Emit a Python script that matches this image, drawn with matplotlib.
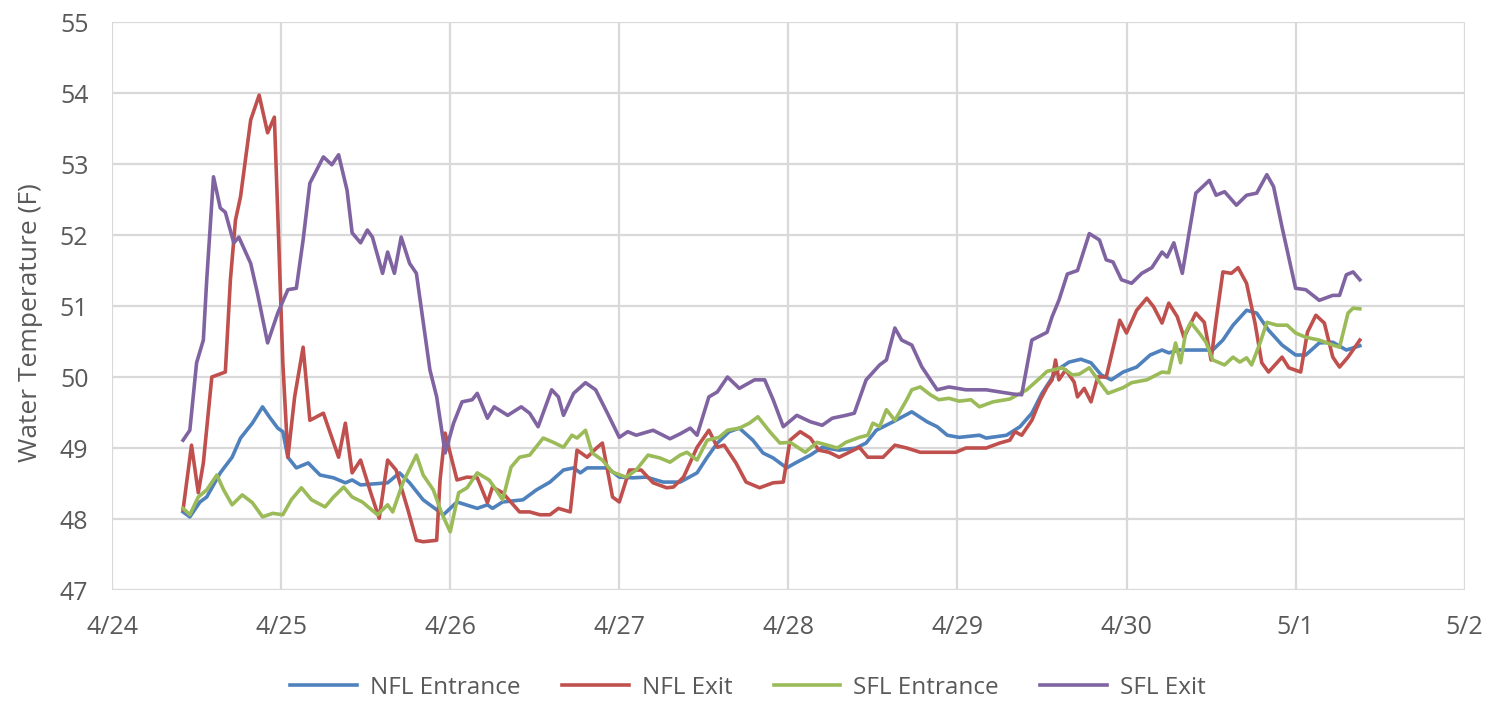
import matplotlib
matplotlib.use("Agg")
import matplotlib.pyplot as plt
import numpy as np

# days since 4/24 00:00, water temperature in F
nfl_ent_t = [0.42, 0.46, 0.52, 0.56, 0.64, 0.71, 0.76, 0.83, 0.89, 0.93, 0.98, 1.01, 1.04, 1.09,
             1.16, 1.23, 1.31, 1.38, 1.42, 1.47, 1.63, 1.70, 1.76, 1.84, 1.96, 2.04, 2.16, 2.22,
             2.25, 2.31, 2.43, 2.51, 2.59, 2.67, 2.73, 2.77, 2.81, 2.93, 3.00, 3.08, 3.16, 3.26,
             3.36, 3.46, 3.52, 3.58, 3.65, 3.71, 3.79, 3.85, 3.91, 3.99, 4.05, 4.13, 4.20, 4.30,
             4.40, 4.46, 4.52, 4.62, 4.73, 4.82, 4.88, 4.94, 5.01, 5.13, 5.17, 5.29, 5.37, 5.44,
             5.50, 5.59, 5.66, 5.73, 5.79, 5.85, 5.91, 5.98, 6.06, 6.14, 6.21, 6.25, 6.31, 6.51,
             6.57, 6.63, 6.71, 6.77, 6.84, 6.92, 7.00, 7.06, 7.14, 7.22, 7.30, 7.38]
nfl_ent = [48.10, 48.03, 48.24, 48.31, 48.65, 48.87, 49.14, 49.35, 49.58, 49.44, 49.28, 49.23, 48.87, 48.72,
           48.79, 48.62, 48.58, 48.51, 48.55, 48.48, 48.51, 48.65, 48.51, 48.27, 48.06, 48.24, 48.15, 48.20,
           48.15, 48.24, 48.27, 48.41, 48.52, 48.69, 48.72, 48.65, 48.72, 48.72, 48.59, 48.58, 48.59, 48.52,
           48.52, 48.65, 48.87, 49.07, 49.23, 49.28, 49.11, 48.93, 48.86, 48.72, 48.80, 48.90, 49.01, 48.97,
           49.00, 49.07, 49.25, 49.37, 49.51, 49.37, 49.30, 49.18, 49.15, 49.18, 49.14, 49.18, 49.30, 49.49,
           49.77, 50.10, 50.21, 50.25, 50.20, 50.03, 49.96, 50.07, 50.14, 50.31, 50.38, 50.34, 50.38, 50.38,
           50.52, 50.73, 50.94, 50.90, 50.66, 50.45, 50.31, 50.31, 50.48, 50.49, 50.38, 50.44]

nfl_exit_t = [0.42, 0.47, 0.51, 0.54, 0.59, 0.67, 0.70, 0.73, 0.76, 0.82, 0.87, 0.92, 0.96, 0.98,
              1.01, 1.04, 1.08, 1.13, 1.17, 1.25, 1.34, 1.38, 1.42, 1.47, 1.53, 1.58, 1.63, 1.68,
              1.75, 1.80, 1.84, 1.92, 1.94, 1.97, 2.04, 2.10, 2.16, 2.22, 2.25, 2.31, 2.41, 2.47,
              2.53, 2.59, 2.64, 2.71, 2.75, 2.81, 2.87, 2.90, 2.96, 3.00, 3.06, 3.13, 3.20, 3.28,
              3.32, 3.38, 3.46, 3.53, 3.58, 3.62, 3.69, 3.75, 3.83, 3.91, 3.97, 4.01, 4.07, 4.13,
              4.18, 4.24, 4.30, 4.42, 4.47, 4.56, 4.63, 4.70, 4.78, 4.99, 5.05, 5.17, 5.25, 5.31,
              5.34, 5.38, 5.44, 5.49, 5.53, 5.56, 5.58, 5.60, 5.64, 5.69, 5.71, 5.75, 5.79, 5.83,
              5.88, 5.96, 6.00, 6.06, 6.12, 6.16, 6.21, 6.25, 6.30, 6.34, 6.41, 6.46, 6.50, 6.53,
              6.57, 6.62, 6.66, 6.71, 6.76, 6.80, 6.84, 6.92, 6.96, 7.03, 7.07, 7.12, 7.17, 7.22,
              7.26, 7.31, 7.38]
nfl_exit = [48.13, 49.04, 48.37, 48.79, 50.00, 50.07, 51.37, 52.21, 52.54, 53.62, 53.97, 53.44, 53.66, 52.31,
            50.20, 48.87, 49.72, 50.42, 49.39, 49.49, 48.87, 49.35, 48.65, 48.83, 48.37, 48.01, 48.83, 48.69,
            48.13, 47.70, 47.68, 47.70, 48.55, 49.21, 48.55, 48.59, 48.58, 48.23, 48.45, 48.37, 48.10, 48.10,
            48.06, 48.06, 48.15, 48.10, 48.97, 48.87, 49.01, 49.07, 48.31, 48.24, 48.69, 48.69, 48.51, 48.44,
            48.45, 48.59, 49.01, 49.25, 49.01, 49.04, 48.79, 48.52, 48.44, 48.51, 48.52, 49.11, 49.23, 49.14,
            48.97, 48.94, 48.87, 49.01, 48.87, 48.87, 49.04, 49.00, 48.94, 48.94, 49.00, 49.00, 49.07, 49.11,
            49.23, 49.18, 49.39, 49.68, 49.86, 49.96, 50.24, 49.96, 50.10, 49.93, 49.72, 49.84, 49.65, 50.00,
            50.00, 50.80, 50.62, 50.94, 51.11, 50.99, 50.76, 51.04, 50.85, 50.56, 50.90, 50.77, 50.24, 50.80,
            51.48, 51.46, 51.54, 51.32, 50.76, 50.20, 50.07, 50.28, 50.13, 50.07, 50.63, 50.87, 50.76, 50.28,
            50.14, 50.28, 50.52]

sfl_ent_t = [0.42, 0.46, 0.51, 0.56, 0.62, 0.66, 0.71, 0.77, 0.83, 0.89, 0.95, 1.01, 1.06, 1.12,
             1.18, 1.26, 1.31, 1.37, 1.42, 1.48, 1.57, 1.63, 1.66, 1.72, 1.80, 1.84, 1.90, 1.95,
             2.00, 2.05, 2.10, 2.16, 2.23, 2.26, 2.31, 2.36, 2.41, 2.47, 2.55, 2.61, 2.67, 2.72,
             2.75, 2.80, 2.84, 2.90, 2.96, 3.04, 3.10, 3.17, 3.24, 3.30, 3.36, 3.40, 3.46, 3.52,
             3.59, 3.64, 3.71, 3.77, 3.82, 3.89, 3.95, 4.01, 4.10, 4.17, 4.29, 4.34, 4.42, 4.47,
             4.50, 4.54, 4.58, 4.63, 4.70, 4.73, 4.78, 4.84, 4.89, 4.95, 5.01, 5.08, 5.13, 5.21,
             5.31, 5.41, 5.49, 5.53, 5.62, 5.68, 5.72, 5.78, 5.84, 5.89, 5.98, 6.03, 6.12, 6.21,
             6.25, 6.29, 6.32, 6.35, 6.38, 6.43, 6.47, 6.51, 6.58, 6.63, 6.67, 6.71, 6.74, 6.79,
             6.83, 6.89, 6.95, 7.00, 7.06, 7.14, 7.22, 7.26, 7.31, 7.34, 7.38]
sfl_ent = [48.15, 48.06, 48.31, 48.41, 48.62, 48.41, 48.20, 48.34, 48.23, 48.03, 48.08, 48.06, 48.27, 48.44,
           48.27, 48.17, 48.31, 48.45, 48.31, 48.24, 48.06, 48.20, 48.10, 48.51, 48.90, 48.62, 48.41, 48.08,
           47.82, 48.37, 48.44, 48.65, 48.55, 48.45, 48.27, 48.73, 48.87, 48.90, 49.14, 49.08, 49.01, 49.18,
           49.14, 49.25, 48.93, 48.83, 48.66, 48.59, 48.69, 48.90, 48.86, 48.80, 48.90, 48.94, 48.83, 49.11,
           49.15, 49.25, 49.28, 49.35, 49.44, 49.23, 49.07, 49.08, 48.94, 49.08, 49.00, 49.08, 49.15, 49.18,
           49.35, 49.30, 49.54, 49.39, 49.68, 49.82, 49.86, 49.75, 49.68, 49.70, 49.66, 49.68, 49.58, 49.65,
           49.69, 49.82, 49.99, 50.08, 50.13, 50.03, 50.04, 50.13, 49.93, 49.77, 49.85, 49.92, 49.96, 50.07,
           50.06, 50.48, 50.20, 50.63, 50.77, 50.62, 50.49, 50.24, 50.17, 50.28, 50.21, 50.27, 50.17, 50.48,
           50.77, 50.73, 50.73, 50.62, 50.56, 50.52, 50.45, 50.42, 50.90, 50.97, 50.96]

sfl_exit_t = [0.42, 0.46, 0.50, 0.54, 0.56, 0.60, 0.64, 0.67, 0.72, 0.75, 0.82, 0.86, 0.92, 0.98,
              1.04, 1.09, 1.13, 1.17, 1.25, 1.30, 1.34, 1.39, 1.42, 1.47, 1.51, 1.54, 1.60, 1.63,
              1.67, 1.71, 1.76, 1.80, 1.88, 1.92, 1.97, 2.02, 2.07, 2.13, 2.16, 2.22, 2.26, 2.34,
              2.42, 2.47, 2.52, 2.60, 2.64, 2.67, 2.73, 2.80, 2.86, 2.93, 3.00, 3.05, 3.10, 3.20,
              3.30, 3.36, 3.42, 3.46, 3.53, 3.58, 3.64, 3.71, 3.80, 3.86, 3.91, 3.97, 4.05, 4.13,
              4.20, 4.26, 4.34, 4.39, 4.46, 4.54, 4.58, 4.63, 4.67, 4.73, 4.79, 4.88, 4.95, 5.05,
              5.17, 5.25, 5.33, 5.38, 5.44, 5.53, 5.56, 5.60, 5.65, 5.71, 5.78, 5.84, 5.88, 5.92,
              5.97, 6.03, 6.09, 6.15, 6.21, 6.24, 6.28, 6.33, 6.37, 6.41, 6.49, 6.53, 6.58, 6.65,
              6.71, 6.77, 6.83, 6.87, 6.92, 7.00, 7.06, 7.14, 7.22, 7.26, 7.30, 7.34, 7.38]
sfl_exit = [49.11, 49.25, 50.20, 50.52, 51.37, 52.82, 52.38, 52.32, 51.89, 51.97, 51.60, 51.18, 50.48, 50.90,
            51.23, 51.25, 51.93, 52.73, 53.10, 52.99, 53.13, 52.63, 52.03, 51.89, 52.07, 51.97, 51.46, 51.76,
            51.46, 51.97, 51.60, 51.46, 50.10, 49.72, 48.93, 49.35, 49.65, 49.68, 49.77, 49.42, 49.58, 49.46,
            49.58, 49.49, 49.30, 49.82, 49.72, 49.46, 49.77, 49.92, 49.82, 49.49, 49.15, 49.23, 49.18, 49.25,
            49.13, 49.20, 49.28, 49.18, 49.72, 49.79, 50.00, 49.84, 49.96, 49.96, 49.68, 49.30, 49.46, 49.37,
            49.32, 49.42, 49.46, 49.49, 49.96, 50.17, 50.24, 50.69, 50.52, 50.45, 50.14, 49.82, 49.86, 49.82,
            49.82, 49.79, 49.76, 49.75, 50.52, 50.63, 50.85, 51.08, 51.45, 51.50, 52.02, 51.93, 51.65, 51.62,
            51.37, 51.32, 51.46, 51.54, 51.76, 51.69, 51.89, 51.46, 52.03, 52.59, 52.77, 52.56, 52.61, 52.42,
            52.56, 52.59, 52.85, 52.68, 52.11, 51.25, 51.23, 51.08, 51.15, 51.15, 51.44, 51.48, 51.37]

day_ticks = [0, 1, 2, 3, 4, 5, 6, 7, 8]
day_labels = ["4/24", "4/25", "4/26", "4/27", "4/28", "4/29", "4/30", "5/1", "5/2"]
temp_ticks = [47, 48, 49, 50, 51, 52, 53, 54, 55]

plt.rcParams['font.family'] = ['Open Sans', 'DejaVu Sans']

fig = plt.figure(figsize=(14.9, 7.1), dpi=100)
ax = fig.add_axes([0.0752, 0.169, 0.9078, 0.800])

ax.plot(nfl_ent_t, nfl_ent, color="#4f81bd", lw=2.6, label="NFL Entrance", solid_joinstyle="round")
ax.plot(nfl_exit_t, nfl_exit, color="#c0504d", lw=2.6, label="NFL Exit", solid_joinstyle="round")
ax.plot(sfl_ent_t, sfl_ent, color="#9bbb59", lw=2.6, label="SFL Entrance", solid_joinstyle="round")
ax.plot(sfl_exit_t, sfl_exit, color="#8064a2", lw=2.6, label="SFL Exit", solid_joinstyle="round")

ax.set_xlim(0, 8)
ax.set_ylim(47, 55)
ax.set_xticks(day_ticks)
ax.set_xticklabels(day_labels)
ax.set_yticks(temp_ticks)
ax.grid(True, color="#d9d9d9", lw=1.6)
ax.set_axisbelow(True)
for s in ax.spines.values():
    s.set_visible(False)
ax.tick_params(length=0, labelsize=18, colors="#595959")
ax.tick_params(axis="x", pad=18)
ax.tick_params(axis="y", pad=17)
ax.set_ylabel("Water Temperature (F)", fontsize=19, color="#595959")
ax.yaxis.set_label_coords(-0.051, 0.47)

leg = fig.legend(loc="center", bbox_to_anchor=(0.502, 0.031), ncol=4, frameon=False,
                 fontsize=17.5, handlelength=2.75, columnspacing=1.7, handletextpad=0.53)
for t in leg.get_texts():
    t.set_color("#595959")

fig.savefig("out.png", dpi=100)
